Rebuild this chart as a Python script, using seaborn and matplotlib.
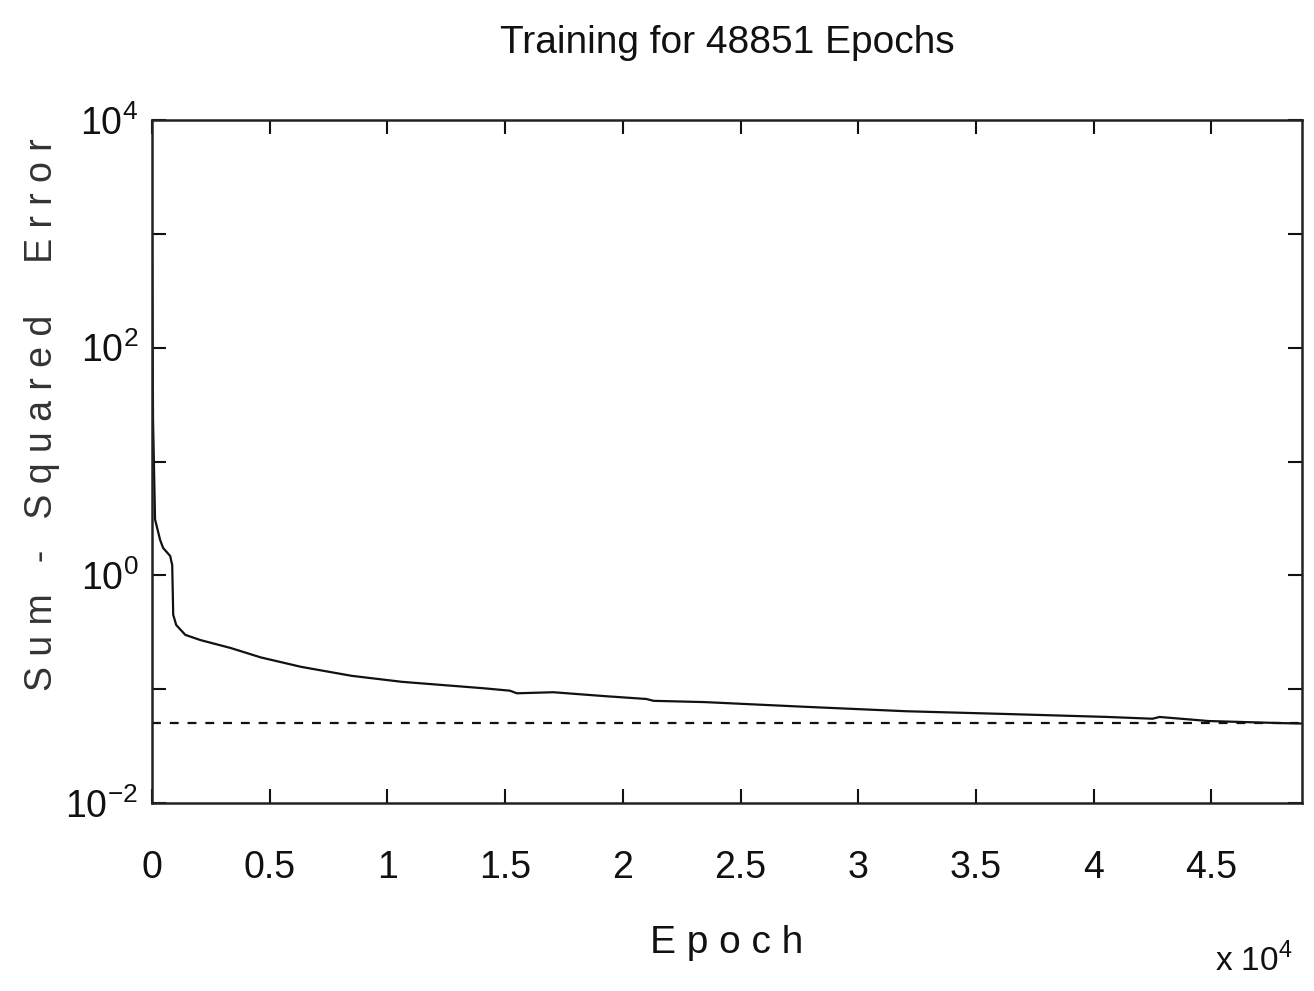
import numpy as np
import pandas as pd
import matplotlib
matplotlib.use('Agg')
import matplotlib.pyplot as plt
import seaborn as sns
from matplotlib.ticker import FixedLocator, FuncFormatter

# 数据
epochs = [0, 43, 128, 343, 471, 771, 857, 900, 1028, 1413, 2056, 3340, 4625,
          6338, 8480, 10620, 14050, 15200, 15500, 17045, 19186, 21000, 21300,
          23470, 27750, 32030, 36320, 40600, 42500, 42800, 44880, 47880, 48851]
sse = [950, 23, 3.1, 2.05, 1.74, 1.48, 1.23, 0.45, 0.366, 0.30, 0.27, 0.23,
       0.19, 0.157, 0.131, 0.116, 0.102, 0.097, 0.092, 0.094, 0.087, 0.082,
       0.079, 0.077, 0.070, 0.064, 0.0605, 0.057, 0.055, 0.057, 0.0525, 0.0504,
       0.0499]
goal = 0.05
n_epochs = 48851
x_ticks = [0, 5000, 10000, 15000, 20000, 25000, 30000, 35000, 40000, 45000]
x_labels = ['0', '0.5', '1', '1.5', '2', '2.5', '3', '3.5', '4', '4.5']
y_decades = [-2, -1, 0, 1, 2, 3, 4]

sns.set_style('ticks')
plt.rcParams['font.family'] = ['Liberation Sans', 'DejaVu Sans']
plt.rcParams['mathtext.fontset'] = 'custom'
plt.rcParams['mathtext.rm'] = 'Liberation Sans'

df = pd.DataFrame({'Epoch': epochs, 'SSE': sse})

fig = plt.figure(figsize=(13.14, 9.91), dpi=100)
ax = fig.add_axes([0.1157, 0.1897, 0.8752, 0.6892])

sns.lineplot(data=df, x='Epoch', y='SSE', ax=ax, color='#111111', linewidth=1.6)
ax.axhline(goal, color='#111111', linestyle=(0, (4, 4)), linewidth=1.6)

ax.set_yscale('log')
ax.set_xlim(0, n_epochs)
ax.set_ylim(1e-2, 1e4)

ax.xaxis.set_major_locator(FixedLocator(x_ticks))
ax.set_xticklabels(x_labels)
ax.yaxis.set_major_locator(FixedLocator([10.0 ** d for d in y_decades]))
ax.yaxis.set_minor_locator(FixedLocator([]))
ax.yaxis.set_major_formatter(FuncFormatter(
    lambda v, p: f'$10^{{{int(round(np.log10(v)))}}}$' if int(round(np.log10(v))) % 2 == 0 else ''))

ax.tick_params(axis='both', direction='in', length=10, width=1.5,
               top=True, right=True, colors='#111111', labelsize=27)
ax.tick_params(axis='x', pad=34)
ax.tick_params(axis='y', pad=10)
for s in ax.spines.values():
    s.set_visible(True)
    s.set_linewidth(1.8)
    s.set_color('#222222')

ax.set_ylabel('')
ax.set_xlabel('E p o c h', fontsize=28, labelpad=28, color='#111111')
fig.text(0.032, 0.582, 'S u m   -   S q u a r e d     E r r o r', fontsize=27,
         rotation=90, ha='center', va='center', color='#333333')
ax.set_title('Training for 48851 Epochs', fontsize=28, pad=48, color='#111111')
fig.text(0.925, 0.02, r'x $10^{4}$', fontsize=24, color='#111111')

fig.savefig('out.png', dpi=100, facecolor='white')
